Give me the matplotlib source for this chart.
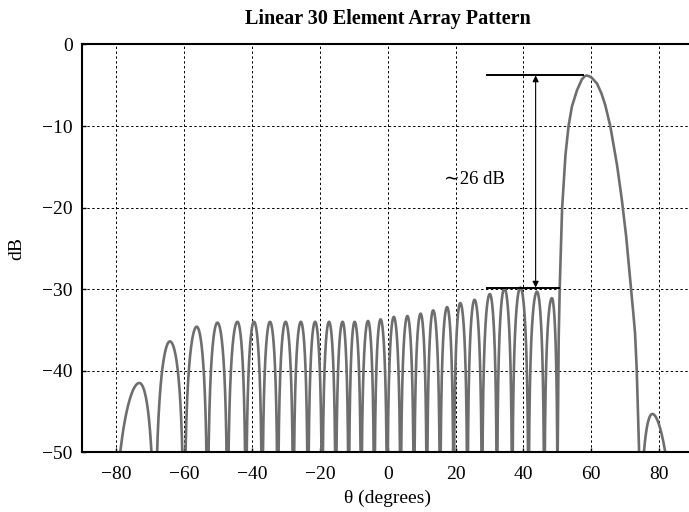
import numpy as np
import matplotlib.pyplot as plt

plt.rcParams['font.family'] = ['Liberation Serif', 'DejaVu Serif']
plt.rcParams['axes.unicode_minus'] = True

# sidelobes: null on each side and the peak, all in degrees / dB
null_left = [-81.4, -68.6, -60.0, -53.1, -47.2, -41.8, -37.0, -32.4, -27.8, -23.5,
             -19.3, -15.3, -11.5, -7.8, -3.95, -0.15, 3.8, 7.75, 11.55, 15.45,
             19.45, 23.5, 27.8, 32.2, 36.7, 41.5, 46.15, 74.1]
null_right = null_left[1:27] + [50.1, 85.9]
peak_deg = [-73.2, -64.2, -56.3, -50.2, -44.3, -39.4, -34.7, -30.1, -25.6, -21.4,
            -17.3, -13.3, -9.75, -5.8, -2.1, 1.8, 5.8, 9.7, 13.4, 17.5,
            21.4, 25.6, 30.1, 34.4, 39.1, 44.0, 48.4, 78.0]
peak_db = [-41.5, -36.4, -34.6, -34.1, -34.0, -34.0, -34.0, -34.0, -34.0, -34.0,
           -34.0, -34.0, -34.0, -33.9, -33.7, -33.4, -33.3, -33.0, -32.6, -32.2,
           -31.7, -31.3, -30.6, -29.9, -29.8, -30.3, -31.1, -45.3]

# main beam
main_deg = [50.1, 50.4, 50.7, 51.4, 52.4, 53.3, 54.3, 55.8, 57.2, 58.0,
            58.7, 59.4, 60.2, 61.7, 63.0, 64.1, 65.6, 66.7, 67.6, 69.0,
            70.3, 71.7, 72.4, 72.9, 73.4, 74.1]
main_db = [-50, -36, -29.8, -20.1, -13.5, -10, -7.6, -5.6, -4.3, -3.9,
           -3.8, -3.9, -4.1, -4.8, -6.0, -7.4, -10, -12.6, -14.8, -19.0,
           -23.6, -29.8, -33.0, -35.4, -39.9, -50]

gain_drop = 26  # peak-to-sidelobe
sll_deg = 43.6


def half_lobe(a, b, top, rising):
    ua, ub = np.sin(np.radians(a)), np.sin(np.radians(b))
    s = np.linspace(0, 1, 60)
    u = ua + (ub - ua) * s
    shape = s if rising else 1 - s
    db = top + 20 * np.log10(np.maximum(np.sin(np.pi / 2 * shape), 1e-4))
    return np.degrees(np.arcsin(u)), db


xs, ys = [], []
for nl, nr, pd, pdb in zip(null_left, null_right, peak_deg, peak_db):
    x1, y1 = half_lobe(nl, pd, pdb, True)
    x2, y2 = half_lobe(pd, nr, pdb, False)
    xs.append(np.concatenate([x1, x2, [np.nan]]))
    ys.append(np.concatenate([y1, y2, [np.nan]]))
    if nr == 50.1:
        xs.append(np.array(main_deg + [np.nan]))
        ys.append(np.array(main_db + [np.nan]))
x = np.concatenate(xs)
y = np.maximum(np.concatenate(ys), -70)

fig = plt.figure(figsize=(6.89, 5.12), dpi=100)
ax = fig.add_axes([0.1195, 0.1166, 0.8864, 0.7965])
ax.plot(x, y, color='#6e6e6e', lw=1.9, solid_joinstyle='round')

ax.set_xlim(-90, 90)
ax.set_ylim(-50, 0)
ax.set_xticks(np.arange(-80, 81, 20))
ax.set_yticks(np.arange(-50, 1, 10))
ax.grid(True, color='black', ls=(0, (2.5, 2.5)), lw=0.7)
ax.tick_params(axis='x', direction='in', length=3, width=1, labelsize=14, pad=10)
ax.tick_params(axis='y', direction='in', length=3, width=1, labelsize=14, pad=7)
for side in ['left', 'top', 'bottom']:
    ax.spines[side].set_linewidth(1.5)
ax.spines['right'].set_visible(False)

# peak-to-sidelobe marker
top = max(main_db)
ax.plot([29.3, 57.7], [top, top], color='black', lw=1.4)
ax.plot([29.3, 50.4], [top - gain_drop, top - gain_drop], color='black', lw=1.4)
ax.annotate('', xy=(sll_deg, top - gain_drop), xytext=(sll_deg, top),
            arrowprops=dict(arrowstyle='<|-|>', color='black', lw=0.8,
                            mutation_scale=9, shrinkA=0, shrinkB=0))
ax.text(25.6, -16.6, '∼%d dB' % gain_drop, ha='center', va='center', fontsize=13.5)

ax.set_title('Linear 30 Element Array Pattern', fontsize=14.5, fontweight='bold', pad=15)
ax.set_xlabel('θ (degrees)', fontsize=14, labelpad=5)
ax.set_ylabel('dB', fontsize=14, labelpad=12)

fig.savefig('out.png', dpi=100)
